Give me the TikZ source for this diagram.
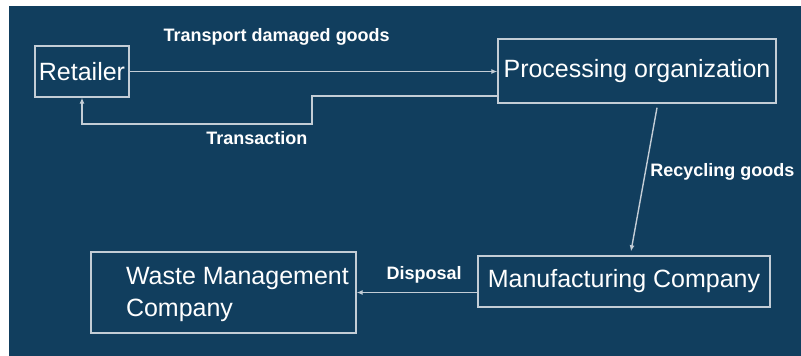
\documentclass[tikz,border=0pt]{standalone}
\usepackage{fontspec}
\setmainfont{Liberation Sans}
\usepackage{xcolor}
\usepackage{tikz}
\usetikzlibrary{arrows.meta,positioning,calc}
\definecolor{navy}{HTML}{113E5E}
\definecolor{edge}{HTML}{C3CDD6}

\begin{document}
\begin{tikzpicture}[x=1pt,y=-1pt,
  box/.style={draw=edge,line width=1.4pt,text=white,inner sep=0pt,font=\fontsize{25}{32}\selectfont},
  link/.style={draw=edge,line width=1.4pt,-{Latex[length=6pt,width=5pt]}},
  tag/.style={text=white,font=\fontsize{18}{20}\selectfont\bfseries}]
  \useasboundingbox (0,0) rectangle (801,356);
  \fill[white] (0,0) rectangle (801,356);
  \fill[navy] (9,6) rectangle (801,356);
  % Actors
  \node[box,minimum width=94pt,minimum height=51pt] (retailer) at (82,71.5) {Retailer};
  \node[box,minimum width=278pt,minimum height=64pt] (proc) at (637,71) {Processing organization};
  \node[box,minimum width=292pt,minimum height=51pt] (manuf) at (624,281.5) {Manufacturing Company};
  \node[box,minimum width=265pt,minimum height=81pt] (waste) at (223.5,292.5) {};
  \node[box,draw=none,anchor=west,align=left] (wastetxt) at ([xshift=35pt,yshift=-2pt]waste.west) {Waste Management\\Company};
  % Flows
  \coordinate (tturn) at (312,124);
  \draw[link] (retailer.east) -- node[tag,pos=0.4,above=22pt] {Transport damaged goods} (retailer.east -| proc.west);
  \draw[link] ([yshift=-25pt]proc.west) -| (tturn) -| node[tag,pos=0.12,below=3pt] {Transaction} (retailer.south);
  \draw[link] ([xshift=20pt,yshift=-4pt]proc.south) -- node[tag,pos=0.45,right=1pt] {Recycling goods} ([xshift=7pt,yshift=4pt]manuf.north);
  \draw[link] (waste.east -| manuf.west) -- node[tag,pos=0.44,above=5pt] {Disposal} (waste.east);
\end{tikzpicture}
\end{document}
